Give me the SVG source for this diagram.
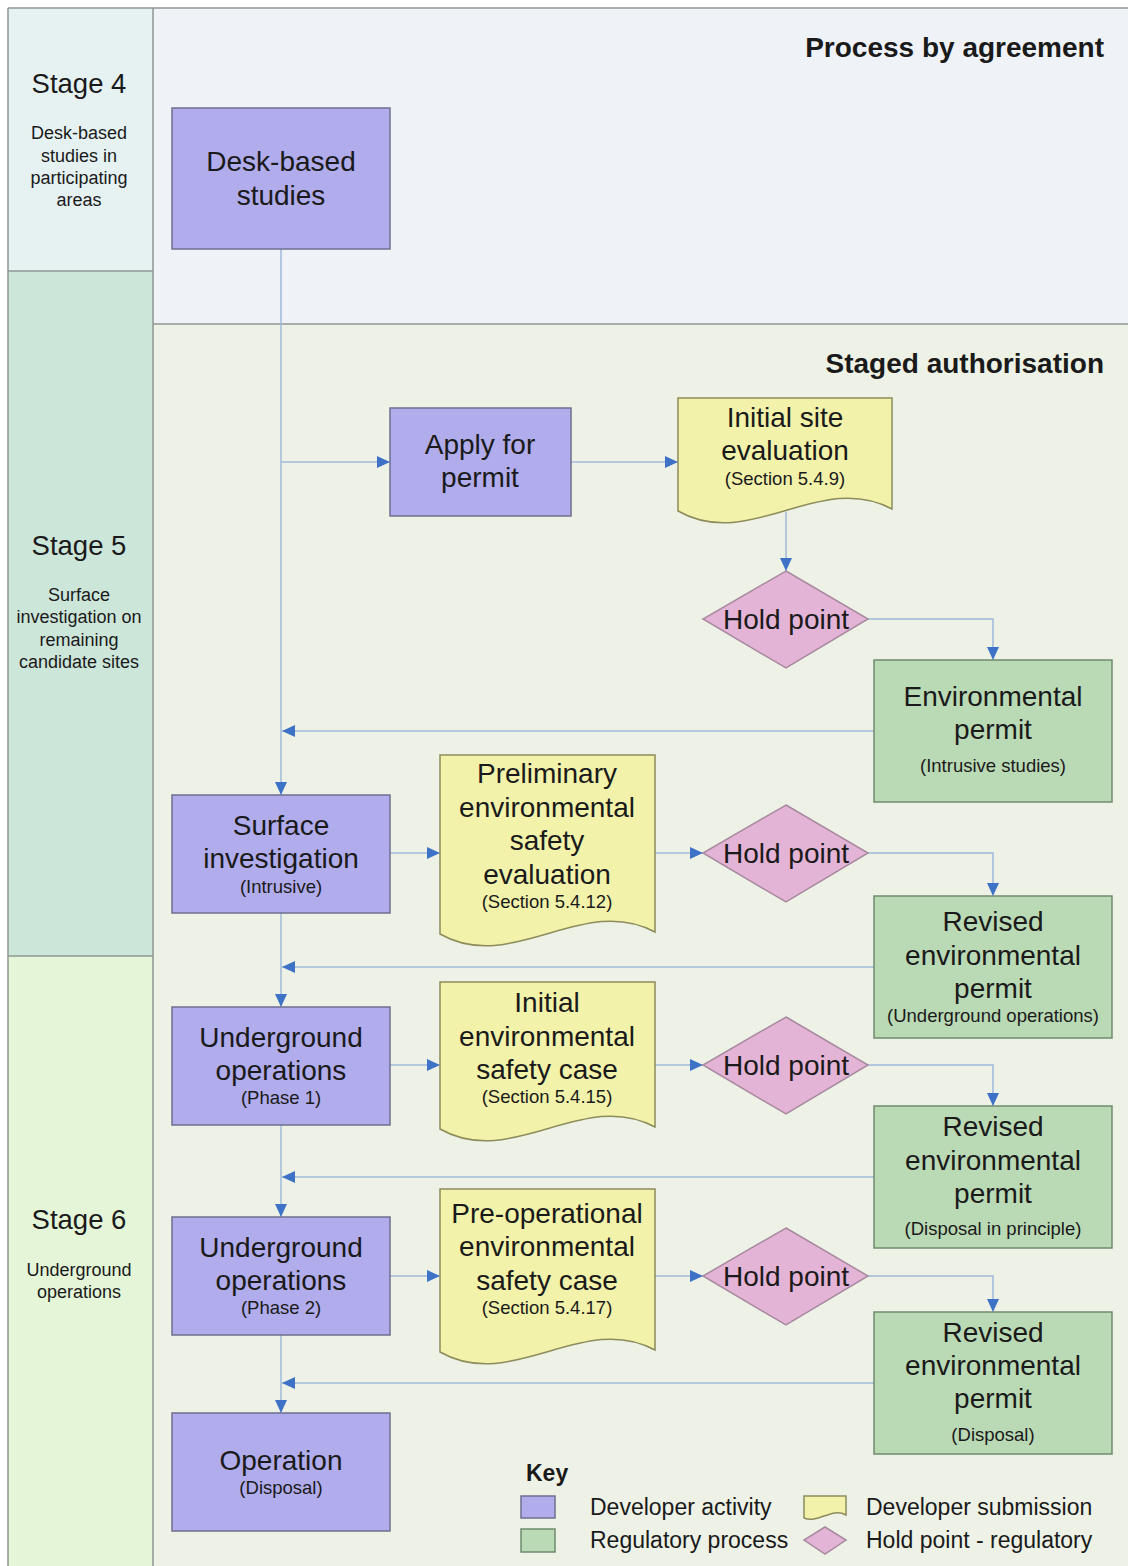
<svg xmlns="http://www.w3.org/2000/svg" width="1128" height="1566" viewBox="0 0 1128 1566">
<defs>
<marker id="arr" markerUnits="userSpaceOnUse" markerWidth="14" markerHeight="12" refX="13" refY="6" orient="auto">
<path d="M0,0 L13,6 L0,12 Z" fill="#3d72c6"/>
</marker>
<style>
text{font-family:"Liberation Sans",Arial,sans-serif;fill:#1a1a1a;text-anchor:middle}
.t{font-size:28px}
.s{font-size:18.5px}
.st{font-size:27.5px}
.ss{font-size:18px}
.h{font-size:28px;font-weight:bold;text-anchor:end}
.k{font-size:23px;text-anchor:start}
.kb{font-size:23px;font-weight:bold;text-anchor:start}
.dev{fill:#b1acec;stroke:#6f6f8e;stroke-width:1.5}
.reg{fill:#bad9b5;stroke:#6f8a6f;stroke-width:1.5}
.doc{fill:#f2f2aa;stroke:#8c8c5c;stroke-width:1.5}
.hold{fill:#e4b4d6;stroke:#a88aa0;stroke-width:1.5}
.c{fill:none;stroke:#9fb8da;stroke-width:1.5}
</style>
</defs>
<rect x="0" y="0" width="1128" height="1566" fill="#ffffff"/>
<g id="lanes">
<rect x="8" y="8" width="145" height="263" fill="#e6f2f2"/>
<rect x="8" y="271" width="145" height="685" fill="#cde6da"/>
<rect x="8" y="956" width="145" height="610" fill="#e4f5d8"/>
<rect x="153" y="8" width="975" height="316" fill="#eff3f8"/>
<rect x="153" y="324" width="975" height="1242" fill="#eef2e6"/>
<path d="M8,8 H1128 M8,8 V1566 M153,8 V1566 M8,271 H153 M8,956 H153 M153,324 H1128" fill="none" stroke="#8f9694" stroke-width="1.5"/>
<text class="st" x="79" y="93">Stage 4</text>
<text class="ss" x="79" y="139">Desk-based</text>
<text class="ss" x="79" y="162">studies in</text>
<text class="ss" x="79" y="184">participating</text>
<text class="ss" x="79" y="206">areas</text>
<text class="st" x="79" y="555">Stage 5</text>
<text class="ss" x="79" y="601">Surface</text>
<text class="ss" x="79" y="623">investigation on</text>
<text class="ss" x="79" y="646">remaining</text>
<text class="ss" x="79" y="668">candidate sites</text>
<text class="st" x="79" y="1229">Stage 6</text>
<text class="ss" x="79" y="1276">Underground</text>
<text class="ss" x="79" y="1298">operations</text>
<text class="h" x="1104" y="57">Process by agreement</text>
<text class="h" x="1104" y="373">Staged authorisation</text>
</g>
<g id="connectors">
<path class="c" d="M281,249 V795" marker-end="url(#arr)"/>
<path class="c" d="M281,462 H390" marker-end="url(#arr)"/>
<path class="c" d="M571,462 H678" marker-end="url(#arr)"/>
<path class="c" d="M786,512 V571" marker-end="url(#arr)"/>
<path class="c" d="M868,619 H993 V660" marker-end="url(#arr)"/>
<path class="c" d="M874,731 H282" marker-end="url(#arr)"/>
<path class="c" d="M390,853 H440" marker-end="url(#arr)"/>
<path class="c" d="M655,853 H703" marker-end="url(#arr)"/>
<path class="c" d="M868,853 H993 V896" marker-end="url(#arr)"/>
<path class="c" d="M874,967 H282" marker-end="url(#arr)"/>
<path class="c" d="M281,913 V1007" marker-end="url(#arr)"/>
<path class="c" d="M390,1065 H440" marker-end="url(#arr)"/>
<path class="c" d="M655,1065 H703" marker-end="url(#arr)"/>
<path class="c" d="M868,1065 H993 V1106" marker-end="url(#arr)"/>
<path class="c" d="M874,1177 H282" marker-end="url(#arr)"/>
<path class="c" d="M281,1125 V1217" marker-end="url(#arr)"/>
<path class="c" d="M390,1276 H440" marker-end="url(#arr)"/>
<path class="c" d="M655,1276 H703" marker-end="url(#arr)"/>
<path class="c" d="M868,1276 H993 V1312" marker-end="url(#arr)"/>
<path class="c" d="M874,1383 H282" marker-end="url(#arr)"/>
<path class="c" d="M281,1335 V1413" marker-end="url(#arr)"/>
</g>
<g id="desk-based">
<rect class="dev" x="172" y="108" width="218" height="141"/>
<text class="t" x="281" y="171">Desk-based</text>
<text class="t" x="281" y="205">studies</text>
</g>
<g id="apply-permit">
<rect class="dev" x="390" y="408" width="181" height="108"/>
<text class="t" x="480" y="454">Apply for</text>
<text class="t" x="480" y="487">permit</text>
</g>
<g id="initial-site-eval">
<path class="doc" d="M678,398 H892 V509 C820,470 750,552 678,511 Z"/>
<text class="t" x="785" y="427">Initial site</text>
<text class="t" x="785" y="460">evaluation</text>
<text class="s" x="785" y="485">(Section 5.4.9)</text>
</g>
<g id="hold-1">
<polygon class="hold" points="786,571 868,619 786,668 703,619"/>
<text class="t" x="786" y="629">Hold point</text>
</g>
<g id="env-permit">
<rect class="reg" x="874" y="660" width="238" height="142"/>
<text class="t" x="993" y="706">Environmental</text>
<text class="t" x="993" y="739">permit</text>
<text class="s" x="993" y="772">(Intrusive studies)</text>
</g>
<g id="surface-investigation">
<rect class="dev" x="172" y="795" width="218" height="118"/>
<text class="t" x="281" y="835">Surface</text>
<text class="t" x="281" y="868">investigation</text>
<text class="s" x="281" y="893">(Intrusive)</text>
</g>
<g id="prelim-eval">
<path class="doc" d="M440,755 H655 V932 C583,893 512,975 440,934 Z"/>
<text class="t" x="547" y="783">Preliminary</text>
<text class="t" x="547" y="817">environmental</text>
<text class="t" x="547" y="850">safety</text>
<text class="t" x="547" y="884">evaluation</text>
<text class="s" x="547" y="908">(Section 5.4.12)</text>
</g>
<g id="hold-2">
<polygon class="hold" points="786,805 868,853 786,902 703,853"/>
<text class="t" x="786" y="863">Hold point</text>
</g>
<g id="revised-permit-uo">
<rect class="reg" x="874" y="896" width="238" height="142"/>
<text class="t" x="993" y="931">Revised</text>
<text class="t" x="993" y="965">environmental</text>
<text class="t" x="993" y="998">permit</text>
<text class="s" x="993" y="1022">(Underground operations)</text>
</g>
<g id="uo-phase1">
<rect class="dev" x="172" y="1007" width="218" height="118"/>
<text class="t" x="281" y="1047">Underground</text>
<text class="t" x="281" y="1080">operations</text>
<text class="s" x="281" y="1104">(Phase 1)</text>
</g>
<g id="initial-safety-case">
<path class="doc" d="M440,982 H655 V1127 C583,1088 512,1170 440,1129 Z"/>
<text class="t" x="547" y="1012">Initial</text>
<text class="t" x="547" y="1046">environmental</text>
<text class="t" x="547" y="1079">safety case</text>
<text class="s" x="547" y="1103">(Section 5.4.15)</text>
</g>
<g id="hold-3">
<polygon class="hold" points="786,1017 868,1065 786,1114 703,1065"/>
<text class="t" x="786" y="1075">Hold point</text>
</g>
<g id="revised-permit-dip">
<rect class="reg" x="874" y="1106" width="238" height="142"/>
<text class="t" x="993" y="1136">Revised</text>
<text class="t" x="993" y="1170">environmental</text>
<text class="t" x="993" y="1203">permit</text>
<text class="s" x="993" y="1235">(Disposal in principle)</text>
</g>
<g id="uo-phase2">
<rect class="dev" x="172" y="1217" width="218" height="118"/>
<text class="t" x="281" y="1257">Underground</text>
<text class="t" x="281" y="1290">operations</text>
<text class="s" x="281" y="1314">(Phase 2)</text>
</g>
<g id="preop-safety-case">
<path class="doc" d="M440,1189 H655 V1350 C583,1311 512,1393 440,1352 Z"/>
<text class="t" x="547" y="1223">Pre-operational</text>
<text class="t" x="547" y="1256">environmental</text>
<text class="t" x="547" y="1290">safety case</text>
<text class="s" x="547" y="1314">(Section 5.4.17)</text>
</g>
<g id="hold-4">
<polygon class="hold" points="786,1228 868,1276 786,1325 703,1276"/>
<text class="t" x="786" y="1286">Hold point</text>
</g>
<g id="revised-permit-disposal">
<rect class="reg" x="874" y="1312" width="238" height="142"/>
<text class="t" x="993" y="1342">Revised</text>
<text class="t" x="993" y="1375">environmental</text>
<text class="t" x="993" y="1408">permit</text>
<text class="s" x="993" y="1441">(Disposal)</text>
</g>
<g id="operation">
<rect class="dev" x="172" y="1413" width="218" height="118"/>
<text class="t" x="281" y="1470">Operation</text>
<text class="s" x="281" y="1494">(Disposal)</text>
</g>
<g id="key">
<text class="kb" x="526" y="1481">Key</text>
<rect class="dev" x="521" y="1496" width="34" height="22"/>
<rect class="reg" x="521" y="1529" width="34" height="23"/>
<path class="doc" d="M804,1496 H846 V1515 C832,1507 818,1524 804,1518 Z"/>
<polygon class="hold" points="825,1527 846,1540 825,1554 804,1540"/>
<text class="k" x="590" y="1515">Developer activity</text>
<text class="k" x="590" y="1548">Regulatory process</text>
<text class="k" x="866" y="1515">Developer submission</text>
<text class="k" x="866" y="1548">Hold point - regulatory</text>
</g>
</svg>
